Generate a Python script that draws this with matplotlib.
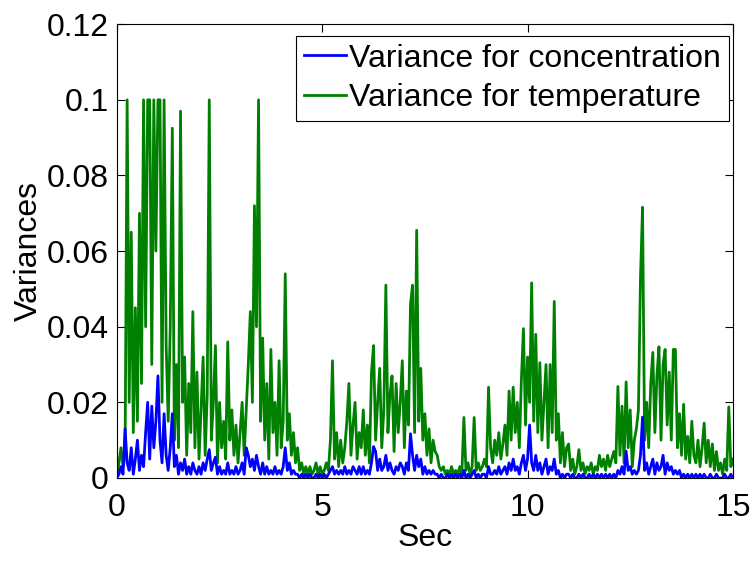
import numpy as np
import matplotlib
matplotlib.use("Agg")
import matplotlib.pyplot as plt

plt.rcParams['font.family'] = ['Liberation Sans', 'DejaVu Sans']

# time axis, one sample every 0.05 s
t = np.arange(301) * 0.05

# variance for temperature (green), 20 values per second
var_temp = [
    0.001, 0.004, 0.008, 0.003, 0.006, 0.100, 0.020, 0.065, 0.012, 0.045,
    0.015, 0.070, 0.025, 0.100, 0.040, 0.100, 0.100, 0.030, 0.100, 0.060,
    0.100, 0.100, 0.020, 0.100, 0.035, 0.015, 0.040, 0.0925, 0.010, 0.030,
    0.008, 0.097, 0.020, 0.032, 0.006, 0.025, 0.012, 0.044, 0.008, 0.028,
    0.005, 0.018, 0.032, 0.006, 0.022, 0.100, 0.010, 0.020, 0.035, 0.004,
    0.020, 0.008, 0.015, 0.005, 0.036, 0.010, 0.018, 0.006, 0.014, 0.004,
    0.012, 0.020, 0.006, 0.018, 0.030, 0.044, 0.020, 0.072, 0.040, 0.100,
    0.015, 0.037, 0.010, 0.025, 0.005, 0.034, 0.012, 0.020, 0.006, 0.031,
    0.008, 0.015, 0.054, 0.010, 0.017, 0.006, 0.012, 0.004, 0.008, 0.002,
    0.004, 0.001, 0.003, 0.001, 0.003, 0.001, 0.002, 0.004, 0.001, 0.003,
    0.001, 0.002, 0.004, 0.002, 0.010, 0.031, 0.005, 0.012, 0.003, 0.010,
    0.004, 0.008, 0.015, 0.025, 0.006, 0.014, 0.020, 0.005, 0.012, 0.008,
    0.018, 0.006, 0.014, 0.004, 0.028, 0.035, 0.010, 0.020, 0.029, 0.008,
    0.018, 0.051, 0.012, 0.022, 0.027, 0.007, 0.025, 0.012, 0.020, 0.031,
    0.008, 0.023, 0.014, 0.046, 0.051, 0.012, 0.0655, 0.015, 0.029, 0.010,
    0.017, 0.006, 0.013, 0.004, 0.010, 0.007, 0.006, 0.003, 0.002, 0.003,
    0.001, 0.002, 0.001, 0.003, 0.001, 0.002, 0.001, 0.003, 0.001, 0.016,
    0.002, 0.004, 0.001, 0.003, 0.016, 0.002, 0.004, 0.002, 0.003, 0.005,
    0.003, 0.024, 0.008, 0.004, 0.010, 0.006, 0.012, 0.005, 0.009, 0.014,
    0.006, 0.023, 0.010, 0.024, 0.012, 0.020, 0.008, 0.026, 0.0395, 0.014,
    0.032, 0.020, 0.0516, 0.015, 0.038, 0.012, 0.0305, 0.010, 0.020, 0.030,
    0.008, 0.030, 0.012, 0.0467, 0.010, 0.017, 0.004, 0.012, 0.003, 0.008,
    0.009, 0.002, 0.005, 0.001, 0.003, 0.0075, 0.002, 0.004, 0.001, 0.003,
    0.002, 0.004, 0.001, 0.003, 0.002, 0.006, 0.003, 0.005, 0.002, 0.006,
    0.003, 0.005, 0.007, 0.004, 0.0242, 0.006, 0.019, 0.004, 0.0254, 0.008,
    0.018, 0.003, 0.010, 0.013, 0.018, 0.053, 0.0716, 0.010, 0.020, 0.008,
    0.025, 0.0332, 0.012, 0.027, 0.0347, 0.010, 0.030, 0.034, 0.014, 0.028,
    0.010, 0.034, 0.034, 0.008, 0.017, 0.006, 0.0195, 0.005, 0.011, 0.004,
    0.015, 0.006, 0.004, 0.010, 0.003, 0.008, 0.0145, 0.004, 0.010, 0.003,
    0.009, 0.002, 0.007, 0.002, 0.004, 0.001, 0.005, 0.002, 0.0188, 0.003,
    0.005,
]

# variance for concentration (blue)
var_conc = [
    0.000, 0.001, 0.003, 0.001, 0.013, 0.004, 0.002, 0.008, 0.001, 0.005,
    0.010, 0.002, 0.006, 0.003, 0.012, 0.020, 0.005, 0.019, 0.008, 0.015,
    0.027, 0.010, 0.004, 0.017, 0.006, 0.002, 0.008, 0.017, 0.003, 0.006,
    0.001, 0.004, 0.002, 0.005, 0.001, 0.003, 0.001, 0.004, 0.002, 0.001,
    0.003, 0.001, 0.004, 0.002, 0.005, 0.0075, 0.002, 0.004, 0.0055, 0.001,
    0.003, 0.001, 0.002, 0.001, 0.004, 0.001, 0.002, 0.001, 0.003, 0.001,
    0.002, 0.004, 0.001, 0.008, 0.006, 0.003, 0.005, 0.002, 0.006, 0.003,
    0.001, 0.004, 0.001, 0.003, 0.001, 0.002, 0.001, 0.003, 0.001, 0.002,
    0.001, 0.003, 0.008, 0.002, 0.004, 0.001, 0.002, 0.001, 0.001, 0.000,
    0.001, 0.000, 0.001, 0.000, 0.001, 0.000, 0.000, 0.001, 0.000, 0.001,
    0.000, 0.001, 0.000, 0.001, 0.002, 0.003, 0.001, 0.002, 0.001, 0.002,
    0.001, 0.003, 0.001, 0.002, 0.001, 0.003, 0.002, 0.001, 0.003, 0.001,
    0.003, 0.001, 0.002, 0.001, 0.004, 0.0083, 0.007, 0.002, 0.005, 0.002,
    0.003, 0.006, 0.002, 0.004, 0.002, 0.001, 0.003, 0.002, 0.004, 0.003,
    0.001, 0.004, 0.002, 0.0117, 0.006, 0.002, 0.006, 0.003, 0.005, 0.001,
    0.003, 0.001, 0.002, 0.001, 0.002, 0.001, 0.001, 0.000, 0.001, 0.000,
    0.000, 0.001, 0.000, 0.001, 0.000, 0.001, 0.000, 0.001, 0.000, 0.002,
    0.000, 0.001, 0.000, 0.001, 0.002, 0.000, 0.001, 0.000, 0.001, 0.001,
    0.000, 0.003, 0.001, 0.001, 0.002, 0.001, 0.003, 0.001, 0.002, 0.003,
    0.001, 0.004, 0.002, 0.005, 0.002, 0.003, 0.001, 0.004, 0.006, 0.002,
    0.005, 0.014, 0.004, 0.002, 0.006, 0.002, 0.004, 0.001, 0.003, 0.005,
    0.001, 0.003, 0.002, 0.005, 0.001, 0.002, 0.000, 0.001, 0.000, 0.001,
    0.001, 0.000, 0.001, 0.000, 0.000, 0.001, 0.000, 0.001, 0.000, 0.000,
    0.001, 0.000, 0.001, 0.000, 0.001, 0.000, 0.001, 0.000, 0.001, 0.000,
    0.001, 0.000, 0.001, 0.000, 0.002, 0.001, 0.003, 0.001, 0.0071, 0.002,
    0.003, 0.001, 0.002, 0.001, 0.002, 0.006, 0.0161, 0.002, 0.004, 0.001,
    0.003, 0.005, 0.001, 0.004, 0.002, 0.003, 0.006, 0.001, 0.004, 0.002,
    0.003, 0.001, 0.002, 0.001, 0.002, 0.000, 0.001, 0.000, 0.001, 0.000,
    0.001, 0.000, 0.001, 0.000, 0.001, 0.000, 0.001, 0.000, 0.000, 0.001,
    0.000, 0.000, 0.001, 0.000, 0.000, 0.000, 0.001, 0.000, 0.000, 0.001,
    0.000,
]

fig = plt.figure(figsize=(7.54, 5.63), dpi=100)
ax = fig.add_axes([0.155, 0.151, 0.817, 0.806])

ax.plot(t, var_conc, color=(0, 0, 1), lw=2.0, label='Variance for concentration', zorder=3)
ax.plot(t, var_temp, color=(0, 0.5, 0), lw=2.0, label='Variance for temperature', zorder=2)

ax.set_xlim(0, 15)
ax.set_ylim(0, 0.12)
ax.set_xticks([0, 5, 10, 15])
ax.set_yticks([0, 0.02, 0.04, 0.06, 0.08, 0.1, 0.12])
ax.set_yticklabels(['0', '0.02', '0.04', '0.06', '0.08', '0.1', '0.12'])
ax.tick_params(direction='in', top=True, right=True, labelsize=23, length=6, width=0.8)
ax.tick_params(axis='x', pad=11)
ax.tick_params(axis='y', pad=6)
for s in ax.spines.values():
    s.set_linewidth(0.8)

ax.set_xlabel('Sec', fontsize=23, labelpad=0)
ax.set_ylabel('Variances', fontsize=23, labelpad=2)

leg = ax.legend(loc='upper right', bbox_to_anchor=(0.993, 0.975), fontsize=23,
                fancybox=False, framealpha=1, edgecolor='black',
                handlelength=1.3, handletextpad=0.1, borderpad=0.25,
                labelspacing=0.3, borderaxespad=0)
leg.get_frame().set_linewidth(0.8)

fig.savefig('out.png', dpi=100)
